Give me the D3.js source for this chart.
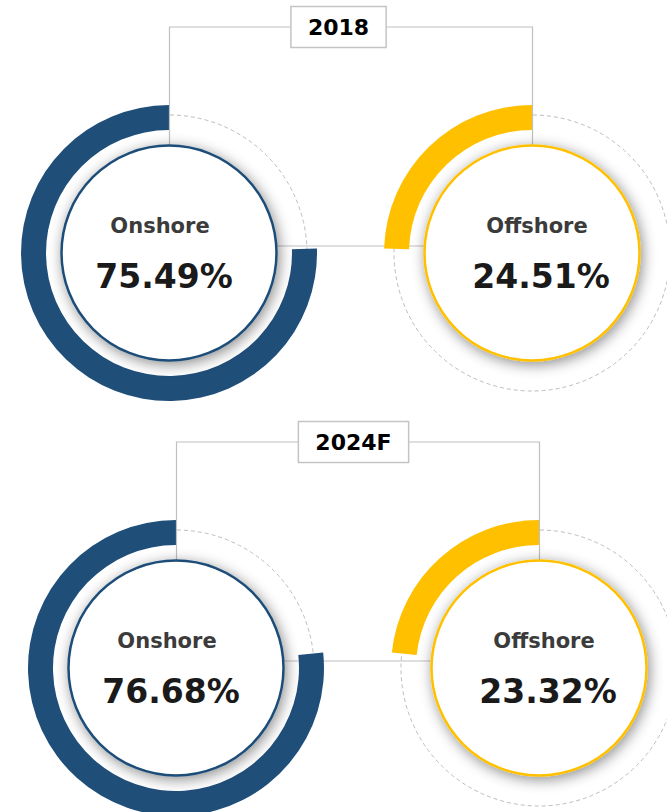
<!DOCTYPE html>
<html>
<head>
<meta charset="utf-8">
<script src="https://cdn.jsdelivr.net/npm/d3@7"></script>
<style>
  body { margin: 0; background: #fff; }
  text { font-family: "DejaVu Sans", Verdana, sans-serif; font-weight: bold; }
</style>
</head>
<body>
<div id="chart"></div>
<script>
var years = ["2018", "2024F"];
var segments = ["Onshore", "Offshore"];
var onshoreShare = [75.49, 76.68];
var offshoreShare = [24.51, 23.32];
var segmentColors = ["#1f4e79", "#ffc000"];

(function(){
	var width = 667,
		height = 812;

	var svg = d3.select("#chart")
		.append("svg")
		.attr("width", width)
		.attr("height", height)

	// soft shadow round the inner discs
	var shadow = svg.append("defs").append("filter")
		.attr("id", "shadow")
		.attr("x", "-40%").attr("y", "-40%")
		.attr("width", "180%").attr("height", "180%")
	shadow.append("feDropShadow")
		.attr("dx", 2).attr("dy", 3)
		.attr("stdDeviation", 7)
		.attr("flood-color", "#000")
		.attr("flood-opacity", 0.45)

	var x = d3.scalePoint().domain(segments).range([169, 532])
	var y = d3.scalePoint().domain(years).range([253, 668])
	var angle = d3.scaleLinear().domain([0, 100]).range([0, -2 * Math.PI])
	var color = d3.scaleOrdinal().domain(segments).range(segmentColors)

	var discR = 107.5,
		dashR = 138,
		ring = d3.arc().innerRadius(123).outerRadius(148).startAngle(0)

	// the lower pair sits a little to the right in the original
	var rowShift = [0, 7],
		boxShift = [-12, -4],
		labelShift = [-9, 5],
		valueShift = [-5, 9]

	var rows = years.map(function(yr, i){
		return {
			year: yr,
			shift: rowShift[i],
			box: boxShift[i],
			values: [
				{seg: segments[0], v: onshoreShare[i], k: 0},
				{seg: segments[1], v: offshoreShare[i], k: 1}
			]
		}
	})

	var xOn = x(segments[0]),
		xOff = x(segments[1]),
		topY = -226

	var row = svg.selectAll(".row")
		.data(rows)
		.enter().append("g")
		.attr("class", "row")
		.attr("transform", function(d){ return "translate(" + d.shift + "," + y(d.year) + ")" })

	// dashed full track
	row.selectAll(".track")
		.data(function(d){ return d.values })
		.enter().append("circle")
		.attr("class", "track")
		.attr("cx", function(d){ return x(d.seg) })
		.attr("r", dashR)
		.attr("fill", "none")
		.attr("stroke", "#bdbdbd")
		.attr("stroke-width", 1)
		.attr("stroke-dasharray", "4,3")

	// line joining the two discs
	row.append("path")
		.attr("d", "M" + (xOn + discR) + ",-7H" + (xOff - discR))
		.attr("fill", "none")
		.attr("stroke", "#bfbfbf")
		.attr("stroke-width", 1.2)

	row.selectAll(".share")
		.data(function(d){ return d.values })
		.enter().append("path")
		.attr("class", "share")
		.attr("transform", function(d){ return "translate(" + x(d.seg) + ",0)" })
		.attr("d", function(d){ return ring({endAngle: angle(d.v)}) })
		.attr("fill", function(d){ return color(d.seg) })

	// bracket up to the year box
	row.append("path")
		.attr("d", "M" + (xOn + 0.5) + "," + (-discR) + "V" + topY + "H" + (xOff + 0.5) + "V" + (-discR))
		.attr("fill", "none")
		.attr("stroke", "#bfbfbf")
		.attr("stroke-width", 1.2)

	row.selectAll(".disc")
		.data(function(d){ return d.values })
		.enter().append("circle")
		.attr("class", "disc")
		.attr("cx", function(d){ return x(d.seg) })
		.attr("r", discR)
		.attr("fill", "#fff")
		.attr("stroke", function(d){ return color(d.seg) })
		.attr("stroke-width", 2.5)
		.attr("filter", "url(#shadow)")

	row.selectAll(".seg-label")
		.data(function(d){ return d.values })
		.enter().append("text")
		.attr("class", "seg-label")
		.attr("x", function(d){ return x(d.seg) + labelShift[d.k] })
		.attr("y", -20)
		.attr("text-anchor", "middle")
		.attr("fill", "#3b3b3b")
		.style("font-size", "21px")
		.text(function(d){ return d.seg })

	row.selectAll(".seg-value")
		.data(function(d){ return d.values })
		.enter().append("text")
		.attr("class", "seg-value")
		.attr("x", function(d){ return x(d.seg) + valueShift[d.k] })
		.attr("y", 35)
		.attr("text-anchor", "middle")
		.attr("fill", "#1a1a1a")
		.style("font-size", "33px")
		.text(function(d){ return d.v.toFixed(2) + "%" })

	// year box
	row.each(function(d){
		var g = d3.select(this)
		var box = g.append("rect")
		var t = g.append("text")
			.attr("x", (xOn + xOff) / 2 + d.box)
			.attr("y", topY + 8)
			.attr("text-anchor", "middle")
			.attr("fill", "#000")
			.style("font-size", "22px")
			.text(d.year)
		var bb = t.node().getBBox()
		box.attr("x", bb.x - 17)
			.attr("y", topY - 20.5)
			.attr("width", bb.width + 34)
			.attr("height", 41)
			.attr("fill", "#fff")
			.attr("stroke", "#c4c4c4")
			.attr("stroke-width", 1.5)
	})
})();
</script>
</body>
</html>
